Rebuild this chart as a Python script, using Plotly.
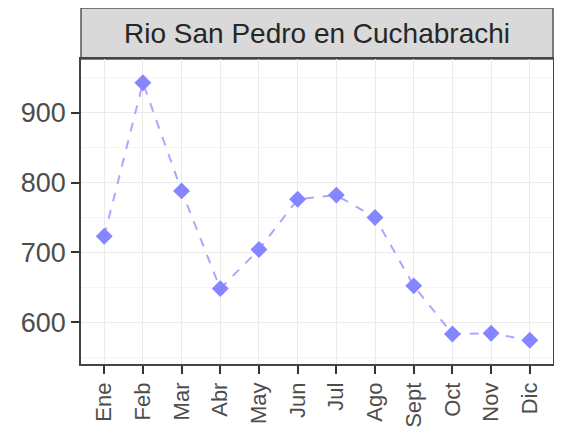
import plotly.graph_objects as go

# Caudal medio mensual
meses = ["Ene", "Feb", "Mar", "Abr", "May", "Jun", "Jul", "Ago", "Sept", "Oct", "Nov", "Dic"]
caudal = [723, 943, 788, 648, 704, 776, 782, 750, 652, 583, 584, 574]
titulo = "Rio San Pedro en Cuchabrachi"

color = "#8585ff"

fig = go.Figure()
fig.add_trace(go.Scatter(
    x=meses, y=caudal, mode="lines+markers",
    line=dict(color="#a8a8ff", width=2, dash="dash"),
    marker=dict(symbol="diamond", size=13, color=color),
    showlegend=False,
))

# franja del titulo (estilo facet strip)
strip_h = 51 / 305
fig.add_shape(type="rect", xref="paper", yref="paper", x0=0, x1=1, y0=1, y1=1 + strip_h,
              fillcolor="#d9d9d9", line=dict(color="#555555", width=1.5), layer="below")
fig.add_annotation(text=titulo, xref="paper", yref="paper", x=0.5, y=1 + strip_h / 2,
                   showarrow=False, font=dict(size=28, color="#262626"), yanchor="middle")

fig.update_layout(
    width=554, height=428,
    margin=dict(l=73, r=7, t=51, b=72),
    paper_bgcolor="white", plot_bgcolor="white",
    font=dict(family="Liberation Sans, Arial, sans-serif", color="#4d4d4d"),
    xaxis=dict(
        type="category", range=[-0.6, 11.6], tickangle=-90,
        tickfont=dict(size=22, color="#4d4d4d"),
        showgrid=True, gridcolor="#ebebeb", gridwidth=1,
        ticks="outside", ticklen=8, tickcolor="#333333", tickwidth=1.5,
        showline=True, linecolor="#444444", linewidth=1.5, mirror=True,
    ),
    yaxis=dict(
        range=[540, 977], tickvals=[600, 700, 800, 900],
        tickfont=dict(size=27, color="#4d4d4d"),
        showgrid=True, gridcolor="#ebebeb", gridwidth=1,
        minor=dict(tickvals=[550, 650, 750, 850, 950], showgrid=True, gridcolor="#f4f4f4", ticks=""),
        ticks="outside", ticklen=8, tickcolor="#333333", tickwidth=1.5,
        showline=True, linecolor="#444444", linewidth=1.5, mirror=True,
        zeroline=False,
    ),
)

fig.write_html("out.html")
